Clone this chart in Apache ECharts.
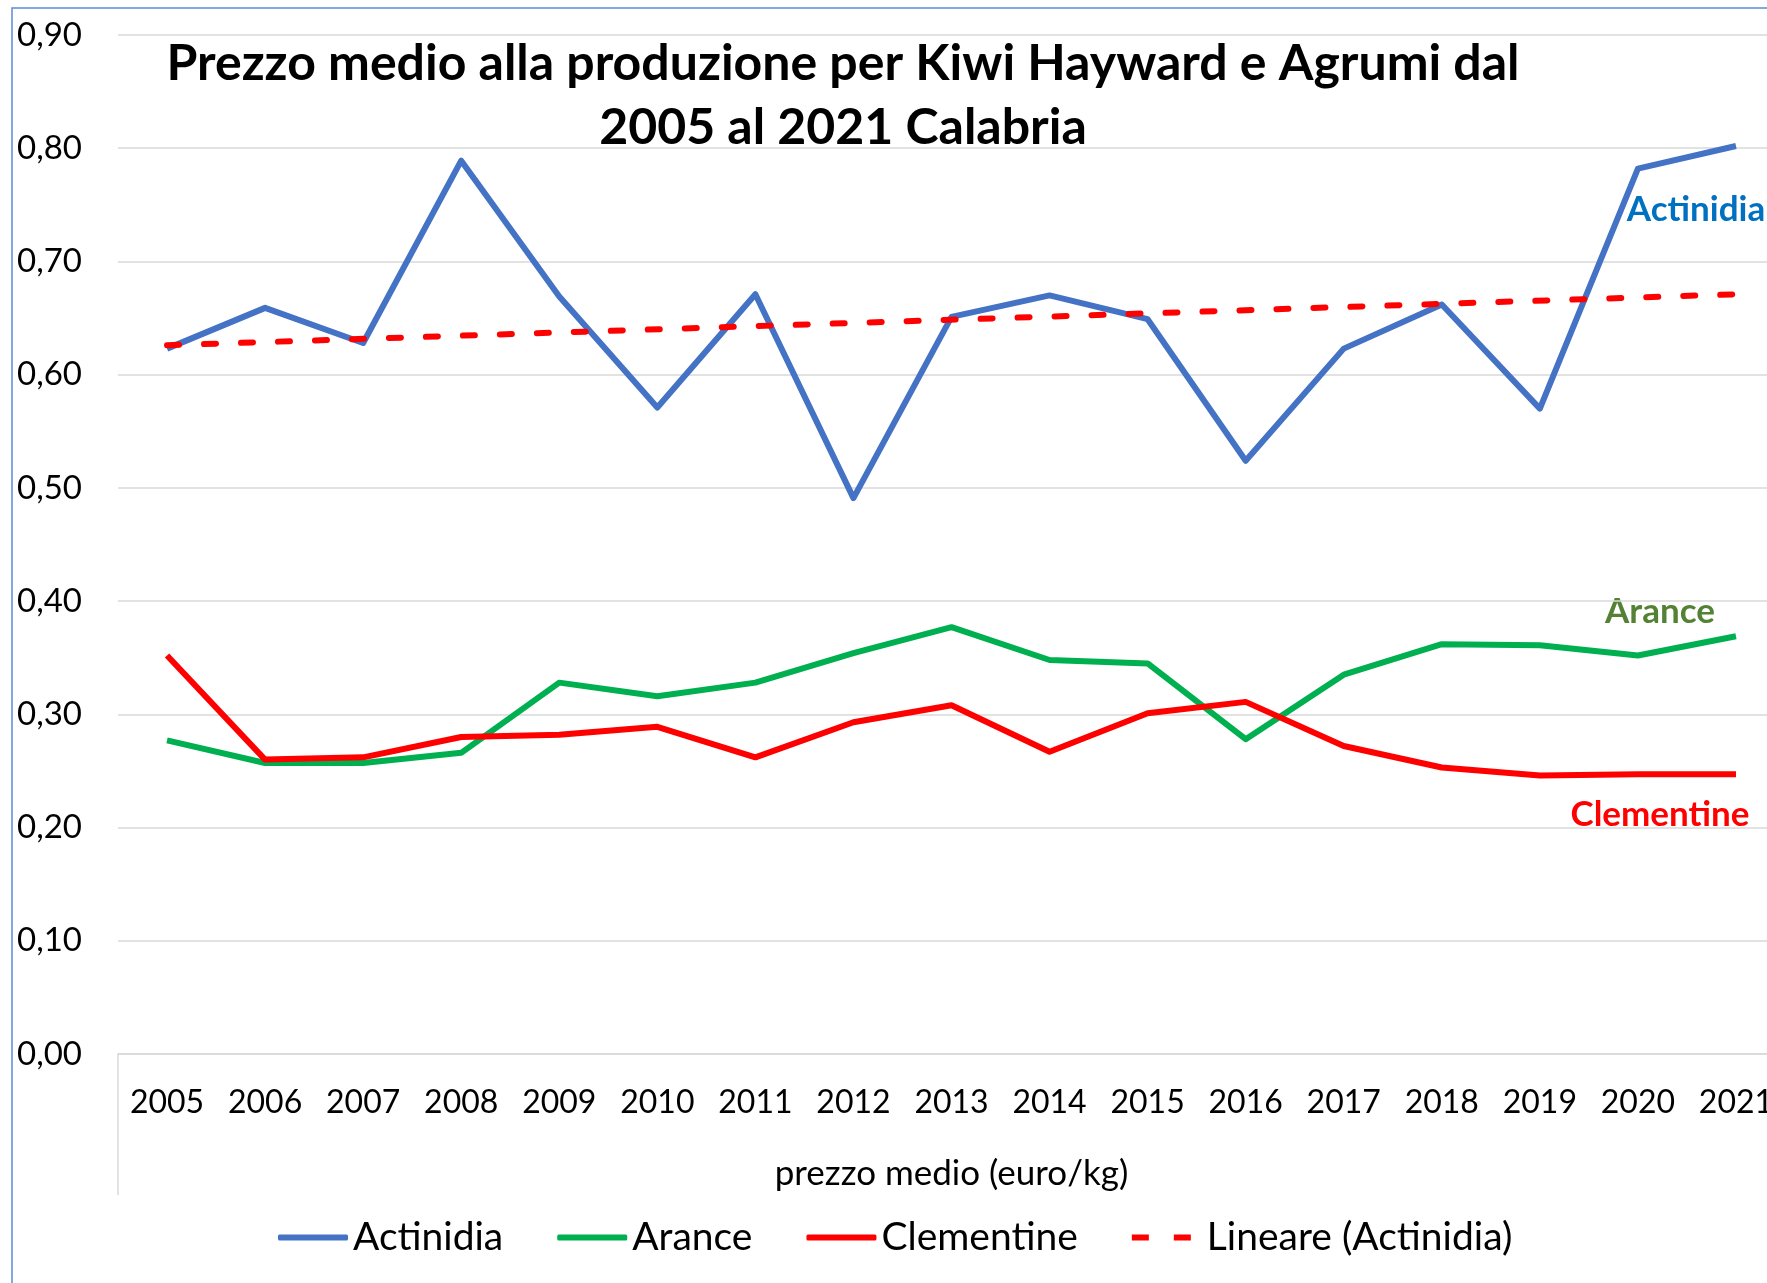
<!DOCTYPE html>
<html lang="it">
<head>
<meta charset="UTF-8">
<title>Prezzo medio alla produzione Kiwi e Agrumi</title>
<script src="https://cdn.jsdelivr.net/npm/echarts@6.0.0/dist/echarts.min.js"></script>
<style>
  html, body { margin: 0; padding: 0; background: #fff; }
  #main { width: 1767px; height: 1283px; }
</style>
</head>
<body>
<div id="main"></div>
<script>
// anni (asse categorie)
var anni = ['2005', '2006', '2007', '2008', '2009', '2010', '2011', '2012', '2013',
  '2014', '2015', '2016', '2017', '2018', '2019', '2020', '2021'];

// prezzo medio (euro/kg)
var actinidia = [0.623, 0.659, 0.628, 0.789, 0.669, 0.571, 0.671, 0.491, 0.651,
  0.670, 0.649, 0.524, 0.623, 0.662, 0.570, 0.782, 0.802];
var arance = [0.277, 0.257, 0.257, 0.266, 0.328, 0.316, 0.328, 0.354, 0.377,
  0.348, 0.345, 0.278, 0.335, 0.362, 0.361, 0.352, 0.369];
var clementine = [0.352, 0.260, 0.262, 0.280, 0.282, 0.289, 0.262, 0.293, 0.308,
  0.267, 0.301, 0.311, 0.272, 0.253, 0.246, 0.247, 0.247];

// tendenza lineare (Actinidia): solo gli estremi
var lineare = [0.626, null, null, null, null, null, null, null, null,
  null, null, null, null, null, null, null, 0.671];

var font = 'Lato, "Open Sans", sans-serif';
var lineIcon = 'roundRect';
var dashIcon = 'path://M0,0h17v6h-17z M42,0h17v6h-17z M69.99,0h0.01v0.01h-0.01z';

var chart = echarts.init(document.getElementById('main'));

var option = {
  backgroundColor: '#fff',
  animation: false,
  title: {
    text: 'Prezzo medio alla produzione per Kiwi Hayward e Agrumi dal\n2005 al 2021 Calabria',
    left: 843,
    top: 32,
    padding: 0,
    textAlign: 'center',
    textStyle: {
      fontFamily: font,
      fontWeight: 'bold',
      fontSize: 50,
      lineHeight: 64,
      color: '#000'
    }
  },
  grid: {
    left: 118,
    top: 35,
    width: 1667,
    height: 1019,
    containLabel: false,
    outerBoundsMode: 'none'
  },
  legend: {
    left: 273,
    top: 1213,
    itemWidth: 70,
    itemHeight: 6,
    itemGap: 54,
    textStyle: { fontFamily: font, fontSize: 39, color: '#000' },
    data: [
      { name: 'Actinidia', icon: lineIcon },
      { name: 'Arance', icon: lineIcon },
      { name: 'Clementine', icon: lineIcon },
      { name: 'Lineare (Actinidia)', icon: dashIcon }
    ]
  },
  xAxis: {
    type: 'category',
    data: anni,
    boundaryGap: true,
    name: 'prezzo medio (euro/kg)',
    nameLocation: 'middle',
    nameGap: 102,
    nameTextStyle: { fontFamily: font, fontSize: 35, color: '#000' },
    axisLine: { lineStyle: { color: '#d9d9d9', width: 1.5 } },
    axisTick: { show: false },
    axisLabel: { fontFamily: font, fontSize: 32, color: '#000', margin: 33, interval: 0 }
  },
  yAxis: {
    type: 'value',
    min: 0,
    max: 0.9,
    interval: 0.1,
    axisLine: { show: false },
    axisTick: { show: false },
    splitLine: { lineStyle: { color: '#d9d9d9', width: 1.5 } },
    axisLabel: {
      fontFamily: font,
      fontSize: 33,
      color: '#000',
      margin: 36,
      formatter: function (v) { return v.toFixed(2).replace('.', ','); }
    }
  },
  series: [
    {
      name: 'Actinidia',
      type: 'line',
      data: actinidia,
      symbol: 'none',
      itemStyle: { color: '#4472c4' },
      lineStyle: { color: '#4472c4', width: 6, join: 'round' }
    },
    {
      name: 'Arance',
      type: 'line',
      data: arance,
      symbol: 'none',
      itemStyle: { color: '#00b050' },
      lineStyle: { color: '#00b050', width: 6, join: 'round' }
    },
    {
      name: 'Clementine',
      type: 'line',
      data: clementine,
      symbol: 'none',
      itemStyle: { color: '#ff0000' },
      lineStyle: { color: '#ff0000', width: 6, join: 'round' }
    },
    {
      name: 'Lineare (Actinidia)',
      type: 'line',
      data: lineare,
      connectNulls: true,
      symbol: 'none',
      itemStyle: { color: '#ff0000' },
      lineStyle: { color: '#ff0000', width: 6, type: [12, 25], cap: 'round' }
    }
  ],
  graphic: [
    // bordo dell'area grafico (tagliato a destra e in basso)
    {
      type: 'rect',
      shape: { x: 12, y: 8, width: 2000, height: 2000 },
      style: { fill: 'none', stroke: '#5b8bd6', lineWidth: 1.5 },
      silent: true
    },
    // linea verticale sotto l'asse categorie
    {
      type: 'line',
      shape: { x1: 118, y1: 1054, x2: 118, y2: 1195 },
      style: { stroke: '#d9d9d9', lineWidth: 1.5 },
      silent: true
    },
    // etichette delle serie
    {
      type: 'text',
      x: 1696, y: 210,
      style: { text: 'Actinidia', fill: '#0070c0', font: 'bold 35px ' + font, textAlign: 'center', textVerticalAlign: 'middle' }
    },
    {
      type: 'text',
      x: 1660, y: 612,
      style: { text: 'Arance', fill: '#548235', font: 'bold 35px ' + font, textAlign: 'center', textVerticalAlign: 'middle' }
    },
    {
      type: 'text',
      x: 1660, y: 815,
      style: { text: 'Clementine', fill: '#ff0000', font: 'bold 35px ' + font, textAlign: 'center', textVerticalAlign: 'middle' }
    }
  ]
};

chart.setOption(option);
</script>
</body>
</html>
